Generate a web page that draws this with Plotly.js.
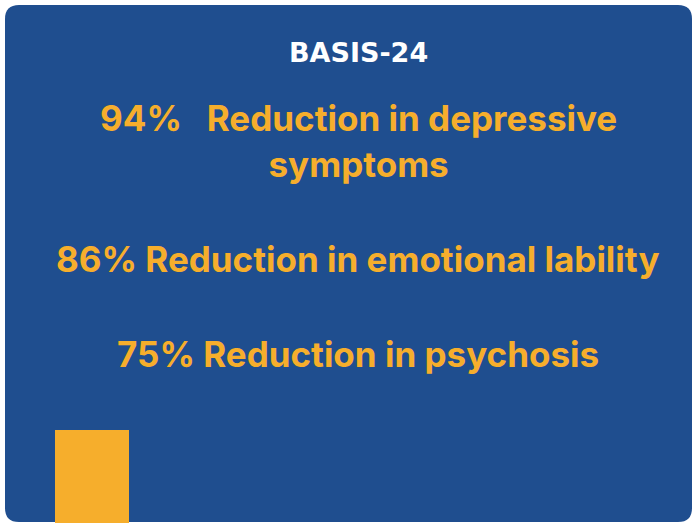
<!DOCTYPE html>
<html>
<head>
<meta charset="utf-8">
<script src="https://cdn.plot.ly/plotly-3.0.1.min.js"></script>
<style>html,body{margin:0;padding:0;background:#fff;}#chart{width:694px;height:523px;}</style>
</head>
<body>
<div id="chart"></div>
<script>
var title = "BASIS-24";
var percents = [94, 86, 75];
var labels = ["Reduction in depressive<br>symptoms", "Reduction in emotional lability", "Reduction in psychosis"];
var separators = ["&nbsp;&nbsp;&nbsp;", " ", " "];

var blue = "#1f4e8f";
var yellow = "#f6ae2c";
var fontFam = "Inter, 'Open Sans', sans-serif";

function roundRect(x0, y0, x1, y1, r) {
  return "M" + (x0 + r) + "," + y0 + " L" + (x1 - r) + "," + y0 +
    " Q" + x1 + "," + y0 + " " + x1 + "," + (y0 + r) +
    " L" + x1 + "," + (y1 - r) + " Q" + x1 + "," + y1 + " " + (x1 - r) + "," + y1 +
    " L" + (x0 + r) + "," + y1 + " Q" + x0 + "," + y1 + " " + x0 + "," + (y1 - r) +
    " L" + x0 + "," + (y0 + r) + " Q" + x0 + "," + y0 + " " + (x0 + r) + "," + y0 + " Z";
}

var W = 694, H = 523;
var textY = [118, 259, 354];
var annotations = [{
  text: title, x: 358, y: 52, xref: "x", yref: "y",
  showarrow: false, font: {family: "'DejaVu Sans', sans-serif", size: 27, weight: 700, color: "#ffffff"}, xanchor: "center", yanchor: "middle"
}];
for (var i = 0; i < percents.length; i++) {
  annotations.push({
    text: percents[i] + "%" + separators[i] + labels[i],
    x: 358, y: textY[i], xref: "x", yref: "y", yanchor: "middle",
    showarrow: false, align: "center",
    font: {family: fontFam, size: 35, weight: 700, color: yellow}
  });
}
annotations[1].y = textY[0] + 23;

var layout = {
  width: W, height: H,
  margin: {l: 0, r: 0, t: 0, b: 0},
  paper_bgcolor: "#ffffff", plot_bgcolor: "rgba(0,0,0,0)",
  xaxis: {range: [0, W], visible: false, fixedrange: true},
  yaxis: {range: [H, 0], visible: false, fixedrange: true},
  showlegend: false,
  shapes: [
    {type: "path", xref: "x", yref: "y", path: roundRect(5, 5, 692, 522, 14), fillcolor: blue, line: {width: 0}, layer: "below"},
    {type: "rect", xref: "x", yref: "y", x0: 55, x1: 129, y0: 430, y1: 523, fillcolor: yellow, line: {width: 0}, layer: "below"}
  ],
  annotations: annotations
};
Plotly.newPlot("chart", [{x: [], y: [], type: "scatter"}], layout, {staticPlot: true, displayModeBar: false});
</script>
</body>
</html>
